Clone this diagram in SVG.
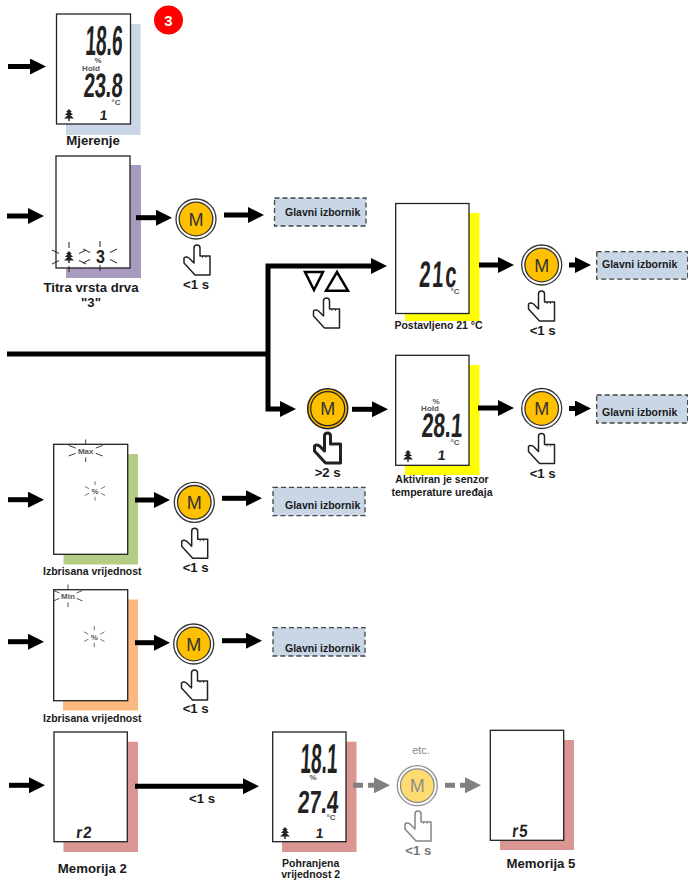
<svg xmlns="http://www.w3.org/2000/svg" xmlns:xlink="http://www.w3.org/1999/xlink" width="688" height="882" viewBox="0 0 688 882">
<style>
text{font-family:"Liberation Sans",Arial,sans-serif}
.lb{font-weight:bold;font-size:13.200px;fill:#1a1a1a;text-anchor:middle}
.ls{font-weight:bold;font-size:10.500px;fill:#1a1a1a;text-anchor:middle}
.gl{font-weight:bold;font-size:10.500px;fill:#1a1a1a}
.lcd{font-size:19px;font-weight:bold;fill:#222;text-anchor:end}
.sm{font-weight:bold;font-size:8px;fill:#555;text-anchor:middle}
.panel{fill:#fff;stroke:#222;stroke-width:1.3}
.menu{fill:#c9d6e6;stroke:#444;stroke-width:1.3;stroke-dasharray:5 3}
.c{fill:none;stroke:#000;stroke-width:5}
.d{fill:none;stroke:#808080;stroke-width:5}
.m{font-size:18px;fill:#333;text-anchor:middle}
</style>
<defs>
<marker id="ah" markerUnits="userSpaceOnUse" markerWidth="17" markerHeight="18" refX="0" refY="8" viewBox="0 0 17 18" orient="auto"><path d="M0 0L16 8L0 16Z" fill="#000"/></marker>
<marker id="ag" markerUnits="userSpaceOnUse" markerWidth="17" markerHeight="18" refX="0" refY="8" viewBox="0 0 17 18" orient="auto"><path d="M0 0L16 8L0 16Z" fill="#808080"/></marker>
<path id="hp" d="M11 3Q11 0 14 0Q17 0 17 3V11H27V30H12L1 18V13Q3 11 6 13L11 18Z" fill="#fff" stroke="#222" stroke-width="1.500" stroke-linejoin="round"/>
<g id="hand"><use xlink:href="#hp" href="#hp"/><path d="M19.500 11V13M23 11V13" stroke="#222" stroke-width="0.800"/></g>
<g id="btn"><circle r="20" fill="#fff" stroke="#333" stroke-width="1.300"/><circle r="16.800" fill="#ffc000" stroke="#333" stroke-width="1.300"/></g>
<g id="btnd"><circle r="20" fill="#f5b400" stroke="#222" stroke-width="1.500"/><circle r="17" fill="#ffc000" stroke="#222" stroke-width="1.200"/></g>
<path id="tree" d="M0 -6L3 -3H1.200L4 0H1.200L5 3.500H0.700V6H-0.700V3.500H-5L-1.200 0H-4L-1.200 -3H-3Z" fill="#222"/>
<g id="rays" stroke="#222" stroke-width="1" fill="none"><path d="M0 -15V-9M0 9V15M-17 -7L-10 -3.500M17 -7L10 -3.500M-17 7L-10 3.500M17 7L10 3.500"/></g>
</defs>

<g id="badge"><circle cx="168.500" cy="20" r="14.500" fill="#f00"/><text x="168.500" y="25.500" text-anchor="middle" font-weight="bold" font-size="15" fill="#fff">3</text></g>

<g id="d-mjerenje">
<rect x="66" y="24" width="74.500" height="111" fill="#c9d6e6"/><rect class="panel" x="56.500" y="14" width="74" height="110"/>
<text class="lcd" transform="translate(122,55) scale(1,2.2) skewX(-6)">18.6</text>
<text class="sm" x="98" y="63">%</text><text class="sm" x="91" y="70.500">Hold</text>
<text class="lcd" transform="translate(122,97) scale(1.05,1.8) skewX(-6)">23.8</text>
<text class="sm" x="116" y="105">°C</text><use xlink:href="#tree" href="#tree" x="69" y="115"/>
<text class="lcd" style="font-size:14px" transform="translate(107,120) skewX(-6)">1</text>
<text class="lb" x="93" y="145">Mjerenje</text>
</g>

<g id="d-titra">
<rect x="66" y="165" width="75" height="113" fill="#a99bc0"/><rect class="panel" x="56" y="156" width="74" height="112"/>
<use xlink:href="#tree" href="#tree" x="69" y="257"/><use xlink:href="#rays" href="#rays" x="69" y="257"/>
<text class="lcd" style="font-size:16px" transform="translate(105,263) scale(1,1.1)">3</text><use xlink:href="#rays" href="#rays" x="100" y="256"/>
<text class="lb" x="91" y="292">Titra vrsta drva</text><text class="lb" x="91" y="307">"3"</text>
</g>
<g id="b-titra"><use xlink:href="#btn" href="#btn" x="196" y="219"/><text class="m" x="196" y="225.500">M</text><use xlink:href="#hand" href="#hand" x="183" y="245"/><text class="lb" x="196" y="289">&lt;1 s</text></g>
<g id="m1"><rect class="menu" x="274.500" y="198" width="91.500" height="28"/><text class="gl" x="285" y="216">Glavni izbornik</text></g>

<g id="arrows-keys"><path d="M305 272H323L314 290Z M326 290.700H348L337 272Z" fill="#fff" stroke="#000" stroke-width="2.500"/><use xlink:href="#hand" href="#hand" x="312.500" y="298"/></g>

<g id="d-21">
<rect x="405" y="213" width="74.500" height="108" fill="#ff0"/><rect class="panel" x="395.700" y="203.500" width="73.300" height="110"/>
<text class="lcd" style="font-size:20px" transform="translate(458,287) scale(1,1.85) skewX(-6)" letter-spacing="2">21c</text>
<text class="sm" x="455" y="294">°C</text>
<text class="ls" x="438.500" y="329">Postavljeno 21 °C</text>
</g>
<g id="b-21"><use xlink:href="#btn" href="#btn" x="541.700" y="265"/><text class="m" x="541.700" y="271.500">M</text><use xlink:href="#hand" href="#hand" x="527.500" y="291"/><text class="lb" x="542.700" y="335">&lt;1 s</text></g>
<g id="m2"><rect class="menu" x="596.700" y="251.700" width="91" height="27.500"/><text class="gl" x="602" y="268">Glavni izbornik</text></g>

<g id="b-hold"><use xlink:href="#btnd" href="#btnd" x="327.700" y="408.700"/><text class="m" x="327.700" y="415">M</text>
<g transform="translate(313.500,433)"><path d="M11 3Q11 0 14 0Q17 0 17 3V11H27V30H12L1 18V13Q3 11 6 13L11 18Z" fill="#fff" stroke="#222" stroke-width="3" stroke-linejoin="round"/></g>
<text class="lb" x="327.700" y="477">&gt;2 s</text></g>

<g id="d-28">
<rect x="405" y="365" width="74.500" height="110" fill="#ff0"/><rect class="panel" x="395.700" y="355.300" width="73.300" height="110"/>
<text class="sm" x="436" y="403.500">%</text><text class="sm" x="430" y="411">Hold</text>
<text class="lcd" style="font-size:20px" transform="translate(462,437) scale(1.05,1.7) skewX(-6)">28.1</text>
<text class="sm" x="455" y="445">°C</text><use xlink:href="#tree" href="#tree" x="408" y="456"/>
<text class="lcd" style="font-size:14px" transform="translate(445,460) skewX(-6)">1</text>
<text class="ls" x="442" y="483">Aktiviran je senzor</text><text class="ls" x="442" y="496">temperature uređaja</text>
</g>
<g id="b-28"><use xlink:href="#btn" href="#btn" x="541.700" y="408.500"/><text class="m" x="541.700" y="415">M</text><use xlink:href="#hand" href="#hand" x="527.500" y="433.500"/><text class="lb" x="542.700" y="477.700">&lt;1 s</text></g>
<g id="m3"><rect class="menu" x="596.700" y="395" width="91" height="28"/><text class="gl" x="602" y="415.700">Glavni izbornik</text></g>

<g id="d-max">
<rect x="63.500" y="454" width="74.500" height="110.500" fill="#b5cc85"/><rect class="panel" x="53.700" y="444.300" width="74" height="110"/>
<text class="sm" x="85.700" y="453.500">Max</text><use xlink:href="#rays" href="#rays" transform="translate(85.700,450.700) scale(1,0.75)"/>
<text class="sm" x="95" y="494">%</text><use xlink:href="#rays" href="#rays" transform="translate(95,491) scale(.6,.65)"/>
<text class="ls" x="92.300" y="575">Izbrisana vrijednost</text>
</g>
<g id="b-max"><use xlink:href="#btn" href="#btn" x="194.300" y="502.300"/><text class="m" x="194.300" y="508.800">M</text><use xlink:href="#hand" href="#hand" x="180.700" y="528.300"/><text class="lb" x="195.700" y="571.700">&lt;1 s</text></g>
<g id="m4"><rect class="menu" x="273" y="487.300" width="92" height="28.400"/><text class="gl" x="285" y="509">Glavni izbornik</text></g>

<g id="d-min">
<rect x="63" y="599.500" width="75" height="111" fill="#fbb97f"/><rect class="panel" x="53.700" y="589.700" width="74" height="111"/>
<text class="sm" x="68" y="598.500">Min</text><use xlink:href="#rays" href="#rays" transform="translate(68,595.700) scale(.85,.75)"/>
<text class="sm" x="94.300" y="639.500">%</text><use xlink:href="#rays" href="#rays" transform="translate(94.300,636.700) scale(.6,.7)"/>
<text class="ls" x="92.300" y="722.300">Izbrisana vrijednost</text>
</g>
<g id="b-min"><use xlink:href="#btn" href="#btn" x="193.700" y="644"/><text class="m" x="193.700" y="650.500">M</text><use xlink:href="#hand" href="#hand" x="180.500" y="670"/><text class="lb" x="195.700" y="713.300">&lt;1 s</text></g>
<g id="m5"><rect class="menu" x="273" y="627.700" width="92" height="28.300"/><text class="gl" x="285" y="652">Glavni izbornik</text></g>

<g id="d-mem2">
<rect x="63.500" y="741.700" width="74.500" height="110.300" fill="#da9693"/><rect class="panel" x="54" y="732" width="73.300" height="109.700"/>
<text class="lcd" style="font-size:15px" transform="translate(92,838) scale(1,1.1) skewX(-6)" letter-spacing="1">r2</text>
<text class="lb" x="92.300" y="873">Memorija 2</text>
</g>
<text class="lb" x="202" y="802.700">&lt;1 s</text>

<g id="d-pohr">
<rect x="282" y="741.700" width="74.500" height="110.300" fill="#da9693"/><rect class="panel" x="272.700" y="732" width="73.300" height="109.700"/>
<text class="lcd" transform="translate(337,773) scale(1,2.2) skewX(-6)">18.1</text>
<text class="sm" x="313" y="780">%</text>
<text class="lcd" style="font-size:20px" transform="translate(338,813) scale(1.05,1.6) skewX(-6)">27.4</text>
<text class="sm" x="331" y="820">°C</text><use xlink:href="#tree" href="#tree" x="285" y="833"/>
<text class="lcd" style="font-size:14px" transform="translate(323,838) skewX(-6)">1</text>
<text class="ls" x="310.700" y="866.700">Pohranjena</text><text class="ls" x="310.700" y="878.300">vrijednost 2</text>
</g>

<g id="b-etc" opacity="0.55"><use xlink:href="#btn" href="#btn" x="417.300" y="785.700"/><text class="m" x="417.300" y="792">M</text><use xlink:href="#hand" href="#hand" x="404" y="811"/></g>
<text x="421" y="754" text-anchor="middle" font-size="11" fill="#888">etc.</text>
<text class="lb" x="418.300" y="855" style="fill:#777">&lt;1 s</text>

<g id="d-mem5">
<rect x="500" y="740" width="74" height="110" fill="#da9693"/><rect class="panel" x="490.300" y="730.300" width="73.400" height="110"/>
<text class="lcd" style="font-size:15px" transform="translate(528,837) scale(1,1.2) skewX(-6)" letter-spacing="1">r5</text>
<text class="lb" x="541" y="867.700">Memorija 5</text>
</g>

<g id="connectors">
<path class="c" d="M8 66.500H30" marker-end="url(#ah)"/>
<path class="c" d="M7 216H28" marker-end="url(#ah)"/>
<path class="c" d="M136 217.700H156" marker-end="url(#ah)"/>
<path class="c" d="M224 215H248" marker-end="url(#ah)"/>
<path class="c" d="M7 354H268"/>
<path class="c" d="M268 354V266H371" marker-end="url(#ah)"/>
<path class="c" d="M268 354V409H280" marker-end="url(#ah)"/>
<path class="c" d="M352 409.300H372" marker-end="url(#ah)"/>
<path class="c" d="M479 265H498" marker-end="url(#ah)"/>
<path class="c" d="M569 265H575" marker-end="url(#ah)"/>
<path class="c" d="M478 408H498" marker-end="url(#ah)"/>
<path class="c" d="M569 408.500H575" marker-end="url(#ah)"/>
<path class="c" d="M8 499.700H28" marker-end="url(#ah)"/>
<path class="c" d="M135 500H154" marker-end="url(#ah)"/>
<path class="c" d="M222 498.300H246" marker-end="url(#ah)"/>
<path class="c" d="M8 641.700H28" marker-end="url(#ah)"/>
<path class="c" d="M135 642.700H154" marker-end="url(#ah)"/>
<path class="c" d="M222 640.700H246" marker-end="url(#ah)"/>
<path class="c" d="M9 785.300H29" marker-end="url(#ah)"/>
<path class="c" d="M135 786.300H243" marker-end="url(#ah)"/>
<path class="d" d="M353 785.300H363M368 785.300H374" marker-end="url(#ag)"/>
<path class="d" d="M445 785.300H455M460 785.300H465" marker-end="url(#ag)"/>
</g>
</svg>
